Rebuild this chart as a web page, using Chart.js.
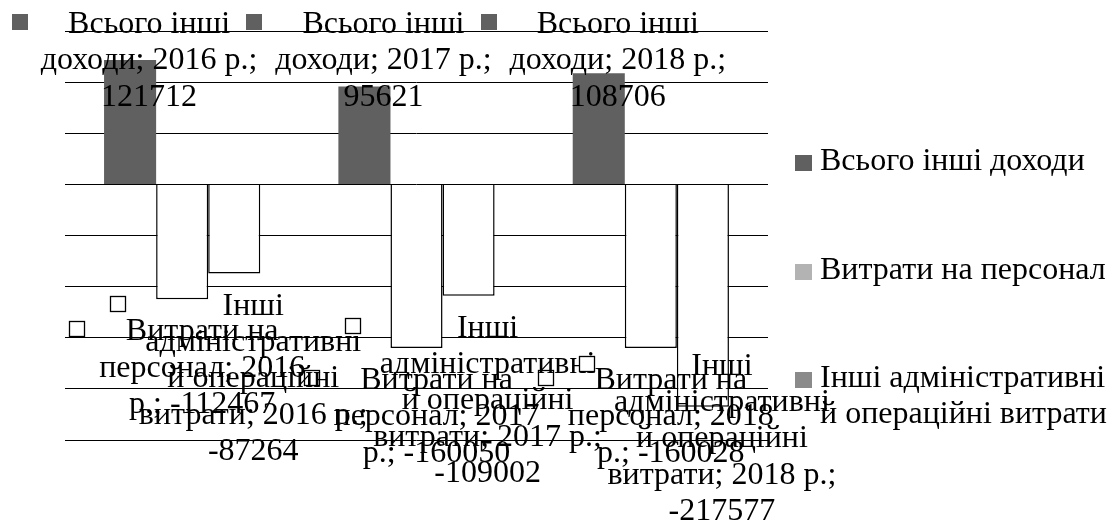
<!DOCTYPE html>
<html>
<head>
<meta charset="utf-8">
<script src="https://cdn.jsdelivr.net/npm/chart.js@4/dist/chart.umd.min.js"></script>
<style>
  html, body { margin: 0; padding: 0; background: #ffffff; }
  canvas { display: block; }
</style>
</head>
<body>
<canvas id="c" width="1119" height="524"></canvas>
<script>
// ---- data ----
const categories = ['2016 р.', '2017 р.', '2018 р.'];
const seriesNames = ['Всього інші доходи', 'Витрати на персонал', 'Інші адміністративні й операційні витрати'];
const otherIncome = [121712, 95621, 108706];
const staffCosts = [-112467, -160050, -160028];
const otherAdminCosts = [-87264, -109002, -217577];
const yTicks = { min: -250000, max: 150000, step: 50000 };

// ---- style ----
const FONT = "32px 'Liberation Serif', 'Times New Roman', serif";
const LH = 36.3;
const barFill = ['#606060', '#ffffff', '#ffffff'];
const barBorder = ['#606060', '#000000', '#000000'];
const barBorderW = [0, 1.5, 1.5];
const legendFill = ['#606060', '#b3b3b3', '#8a8a8a'];
const labelMarkerFill = ['#606060', '#ffffff', '#ffffff'];
const labelDx = [19, 20, 19];
const markerDx = [-137, -133, -143];
const LABEL_WRAP = 236;
const LEGEND_WRAP = 300;

function wrap(ctx, text, maxW) {
  const words = text.split(' ');
  const lines = [];
  let cur = '';
  for (const w of words) {
    const t = cur ? cur + ' ' + w : w;
    if (cur && ctx.measureText(t).width > maxW) { lines.push(cur); cur = w; }
    else cur = t;
  }
  if (cur) lines.push(cur);
  return lines;
}

const labelPlugin = {
  id: 'excelLabels',
  afterDatasetsDraw(chart) {
    const ctx = chart.ctx;
    ctx.save();
    ctx.font = FONT;
    ctx.fillStyle = '#000';
    ctx.textAlign = 'center';
    ctx.textBaseline = 'alphabetic';
    chart.data.datasets.forEach((ds, i) => {
      const meta = chart.getDatasetMeta(i);
      meta.data.forEach((el, j) => {
        const v = ds.data[j];
        const text = seriesNames[i] + '; ' + categories[j] + '; ' + v;
        const lines = wrap(ctx, text, LABEL_WRAP);
        const n = lines.length;
        const cx = el.x + labelDx[i];
        let first;
        if (v >= 0) {
          first = el.y - 8 - (n - 1) * LH;
          if (first < 33) first = 33;
        } else {
          first = el.y + 41;
          const last = first + (n - 1) * LH;
          if (last > 520) first = 520 - (n - 1) * LH;
        }
        ctx.save();
        const mx = Math.round(cx + markerDx[i]), my = Math.round(first - 19);
        ctx.fillStyle = labelMarkerFill[i];
        ctx.fillRect(mx, my, 16, 16);
        if (i > 0) {
          ctx.strokeStyle = '#000';
          ctx.lineWidth = 1.3;
          ctx.strokeRect(mx + 0.5, my + 0.5, 15, 15);
        }
        ctx.restore();
        lines.forEach((ln, k) => ctx.fillText(ln, cx, first + k * LH));
      });
    });
    ctx.restore();
  }
};

const legendPlugin = {
  id: 'rightLegend',
  afterDraw(chart) {
    const ctx = chart.ctx;
    ctx.save();
    ctx.font = FONT;
    ctx.textAlign = 'left';
    const x0 = chart.chartArea.right + 27;
    seriesNames.forEach((name, i) => {
      const base = 170 + i * 108.5;
      ctx.fillStyle = legendFill[i];
      ctx.fillRect(x0, Math.round(base - 15), 17, 16);
      ctx.fillStyle = '#000';
      const lines = wrap(ctx, name, LEGEND_WRAP);
      lines.forEach((ln, k) => ctx.fillText(ln, x0 + 25, base + k * LH));
    });
    ctx.restore();
  }
};

const datasets = [otherIncome, staffCosts, otherAdminCosts].map((d, i) => ({
  label: seriesNames[i],
  data: d,
  backgroundColor: barFill[i],
  borderColor: barBorder[i],
  borderWidth: barBorderW[i],
  categoryPercentage: 2 / 3,
  barPercentage: 1
}));

new Chart(document.getElementById('c'), {
  type: 'bar',
  data: { labels: categories, datasets },
  options: {
    responsive: false,
    animation: false,
    layout: { padding: { left: 65, right: 351, top: 31, bottom: 84 } },
    plugins: { legend: { display: false }, tooltip: { enabled: false } },
    scales: {
      x: { display: false },
      y: {
        min: yTicks.min, max: yTicks.max,
        ticks: { display: false, stepSize: yTicks.step },
        grid: { color: '#000', lineWidth: 1, drawTicks: false },
        border: { display: false }
      }
    }
  },
  plugins: [labelPlugin, legendPlugin]
});
</script>
</body>
</html>
